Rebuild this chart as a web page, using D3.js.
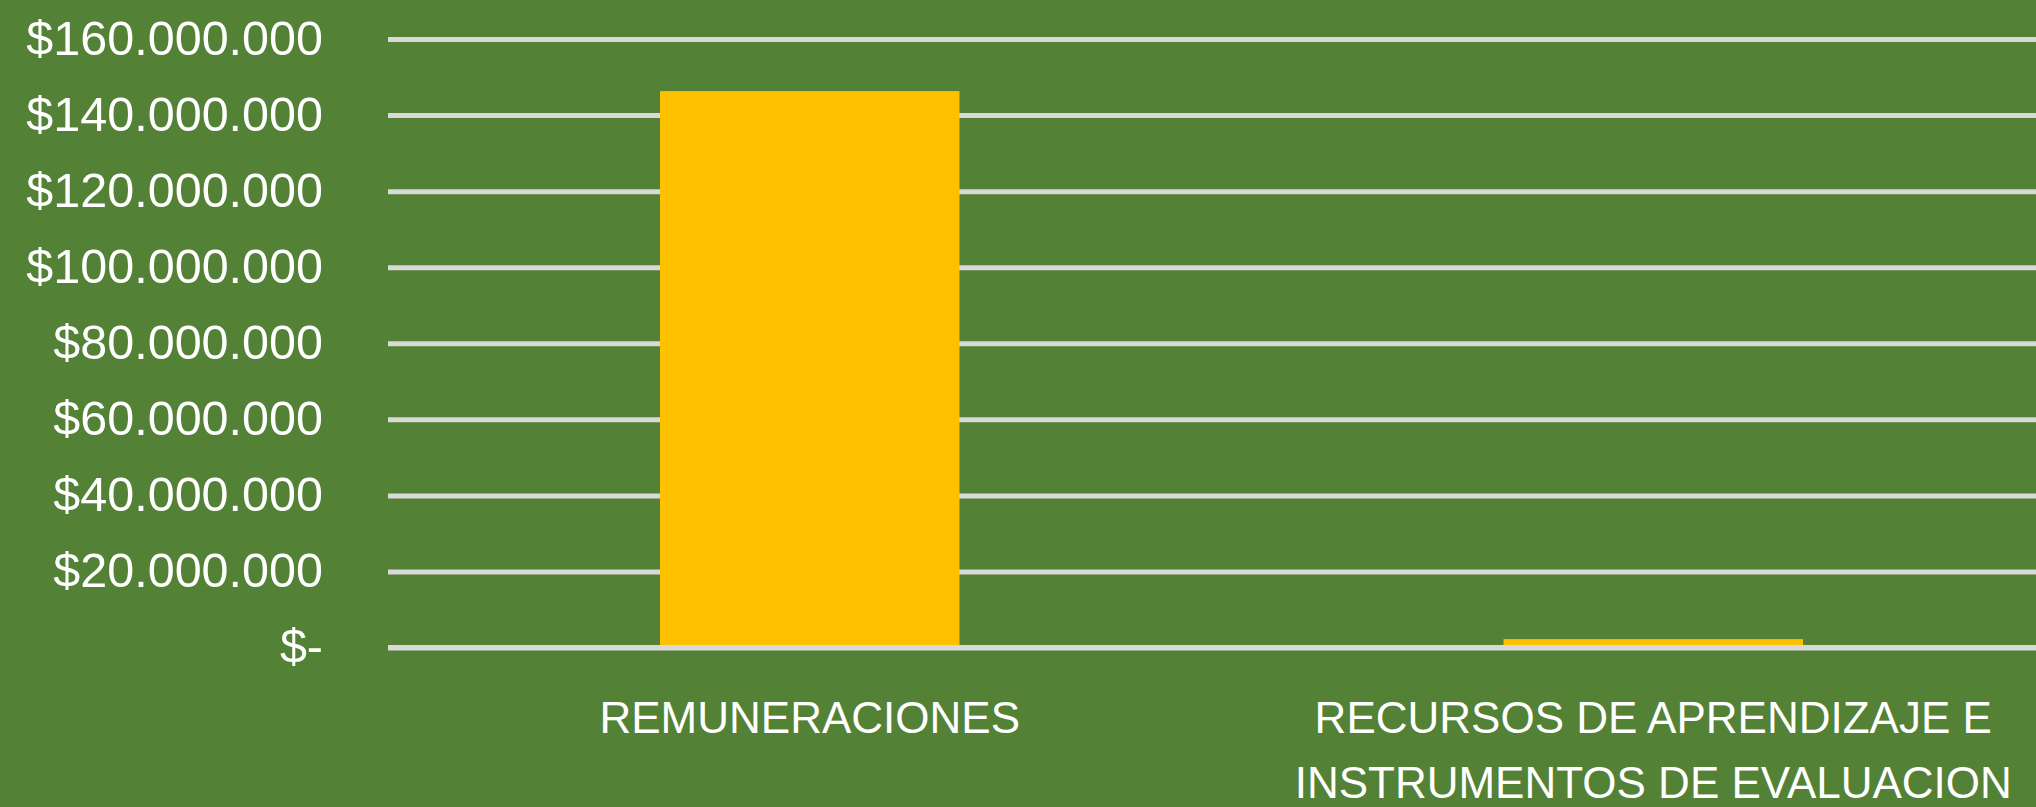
<!DOCTYPE html>
<html>
<head>
<meta charset="utf-8">
<script src="https://cdn.jsdelivr.net/npm/d3@7"></script>
<style>
  html, body { margin: 0; padding: 0; background: #538135; overflow: hidden; }
  svg { display: block; }
  text { font-family: "Liberation Sans", Arial, sans-serif; fill: #ffffff; }
</style>
</head>
<body>
<svg id="chart" width="2036" height="807"></svg>
<script>
// ---- data ----
const categories = ["REMUNERACIONES", "RECURSOS DE APRENDIZAJE E INSTRUMENTOS DE EVALUACION"];
const categoryLines = [["REMUNERACIONES"], ["RECURSOS DE APRENDIZAJE E", "INSTRUMENTOS DE EVALUACION"]];
const values = [146300000, 2200000];
const tickValues = [0, 20000000, 40000000, 60000000, 80000000, 100000000, 120000000, 140000000, 160000000];
const tickLabels = ["$-", "$20.000.000", "$40.000.000", "$60.000.000", "$80.000.000", "$100.000.000", "$120.000.000", "$140.000.000", "$160.000.000"];

// ---- layout ----
const W = 2036, H = 807;
const plot = { left: 388, right: 2075, top: 39, bottom: 647.5 };
const svg = d3.select("#chart");

svg.append("rect").attr("x", 0).attr("y", 0).attr("width", W).attr("height", H).attr("fill", "#538135");

const x = d3.scaleBand().domain(categories).range([plot.left, plot.right])
  .paddingInner(0.645).paddingOuter(0.3225);
const y = d3.scaleLinear().domain([0, 160000000]).range([plot.bottom, plot.top]);

// gridlines (drawn via axis)
const grid = d3.axisLeft(y).tickValues(tickValues).tickSize(-(W - plot.left + 50)).tickFormat("");
const gg = svg.append("g").attr("transform", `translate(${plot.left},0)`).call(grid);
gg.select(".domain").remove();
gg.selectAll(".tick line").attr("stroke", "#D9D9D9").attr("stroke-width", 5);

// bars
svg.append("g").selectAll("rect").data(values).join("rect")
  .attr("x", (d, i) => x(categories[i]))
  .attr("width", x.bandwidth())
  .attr("y", d => y(d))
  .attr("height", d => y(0) - y(d))
  .attr("fill", "#FFC000");

// y tick labels
const yl = d3.axisLeft(y).tickValues(tickValues).tickSize(0).tickPadding(0)
  .tickFormat((d, i) => tickLabels[i]);
const yg = svg.append("g").attr("transform", `translate(323,0)`).call(yl);
yg.select(".domain").remove();
yg.selectAll(".tick text")
  .attr("font-size", 48.5)
  .attr("font-family", "'Liberation Sans', Arial, sans-serif")
  .attr("fill", "#ffffff")
  .attr("dy", null)
  .attr("y", 15)
  .attr("text-anchor", "end");

// baseline gridline on top of bars
svg.append("line")
  .attr("x1", plot.left).attr("x2", W)
  .attr("y1", y(0)).attr("y2", y(0))
  .attr("stroke", "#D9D9D9").attr("stroke-width", 5);

// category labels
const cg = svg.append("g");
categoryLines.forEach((lines, i) => {
  const cx = x(categories[i]) + x.bandwidth() / 2;
  const t = cg.append("text")
    .attr("x", cx)
    .attr("y", 733)
    .attr("text-anchor", "middle")
    .attr("font-size", 44);
  lines.forEach((ln, j) => {
    t.append("tspan").attr("x", cx).attr("y", 733 + j * 65).text(ln);
  });
});
</script>
</body>
</html>
